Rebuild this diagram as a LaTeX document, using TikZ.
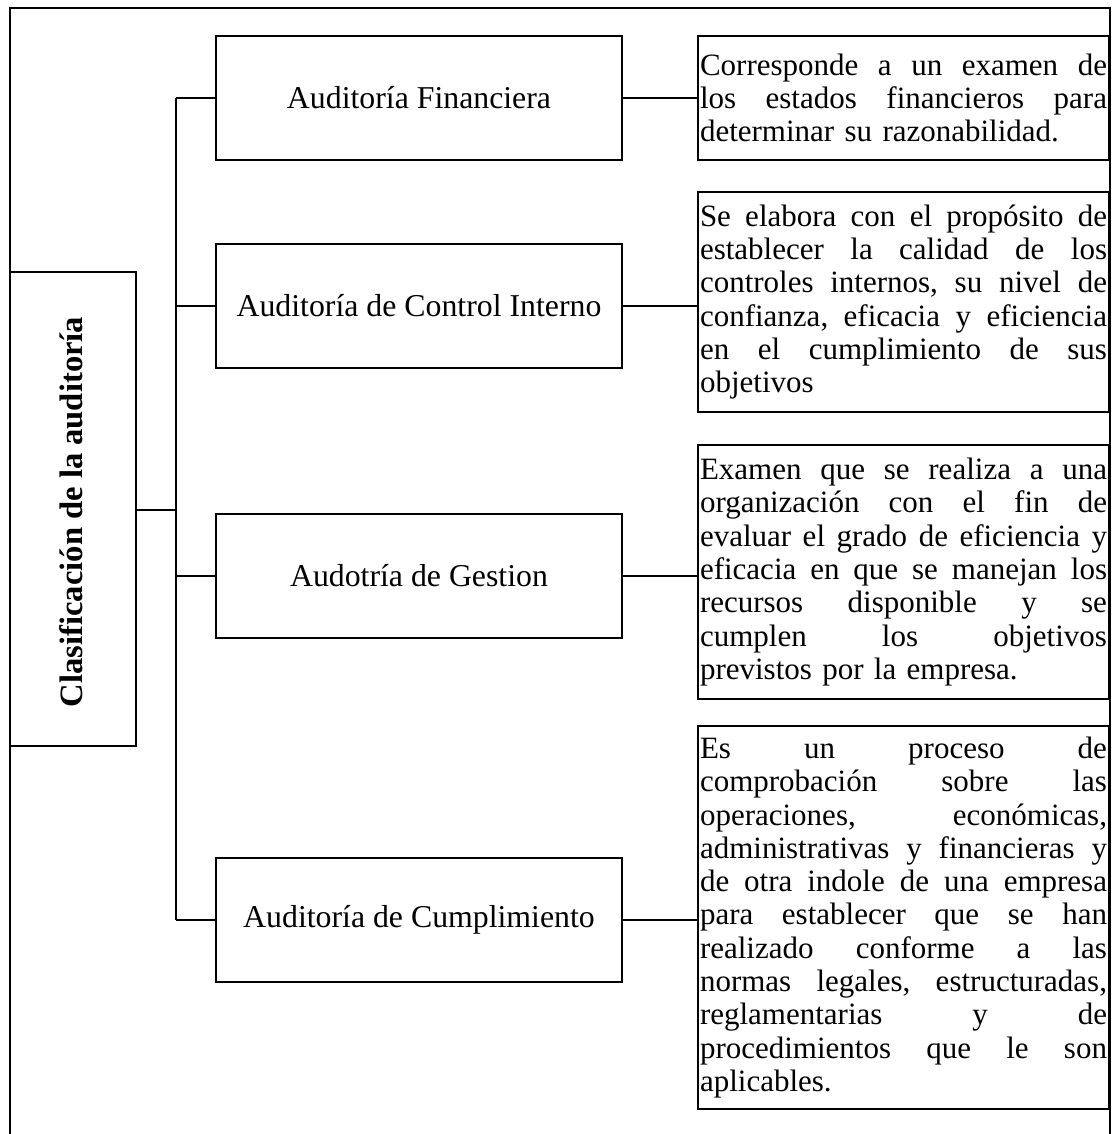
\documentclass[tikz,border=0pt]{standalone}
\usepackage{fontspec}
\setmainfont{Liberation Serif}
\newcommand{\midfont}{\fontsize{31.8pt}{34pt}\selectfont}
\newcommand{\descfont}{\fontsize{31pt}{33.3pt}\selectfont}
\newcommand{\rootfont}{\fontsize{32.6pt}{34pt}\selectfont\bfseries}
\newlength{\descw}
\setlength{\descw}{407pt}
\ExplSyntaxOn
% one fully justified line of a description: words spread to the full width
\cs_new_protected:Npn \jline #1
  {
    \tl_set:Nn \l_tmpa_tl {#1}
    \tl_replace_all:Nnn \l_tmpa_tl { ~ } { \hfill }
    \noindent \hbox_to_wd:nn { \descw } { \l_tmpa_tl } \par
  }
\ExplSyntaxOff
% last (ragged) line of a description
\newcommand{\lastline}[1]{\noindent\makebox[\descw][l]{#1}\par}
\tikzset{
  frameline/.style={line width=2.5pt},
  link/.style={line width=2pt},
  mainbox/.style={draw, line width=2pt, minimum width=126pt, minimum height=474pt, inner sep=0pt},
  midbox/.style={draw, line width=2pt, minimum width=406pt, minimum height=124pt, inner sep=0pt, font=\midfont},
  descbox/.style={draw, line width=2pt, minimum width=411pt, inner xsep=2pt, inner ysep=0pt, text width=\descw, font=\descfont}
}
\begin{document}
\begin{tikzpicture}[x=1pt, y=-1pt]
\useasboundingbox (0,0) rectangle (1118,1134);

% open outer frame
\coordinate (fbl) at (10,1134);
\coordinate (ftl) at (10,8);
\coordinate (ftr) at (1110,8);
\coordinate (fbr) at (1110,1134);
\draw[frameline] (fbl) -- (ftl) -- (ftr) -- (fbr);

% root box
\node[mainbox] (root) at (73,509) {};
\node[rotate=90, font=\rootfont] (roottxt) at (71,512) {Clasificación de la auditoría};

% audit types
\node[midbox] (m1) at (419,98) {Auditoría Financiera};
\node[midbox] (m2) at (419,306) {Auditoría de Control Interno};
\node[midbox] (m3) at (419,575.5) {Audotría de Gestion};
\node[midbox] (m4) at (419,920) {Auditoría de Cumplimiento};

% descriptions
\node[descbox, minimum height=124pt] (r1) at (903.5,98) {%
\jline{Corresponde a un examen de}
\jline{los estados financieros para}
\lastline{determinar su razonabilidad.}};

\node[descbox, minimum height=220pt] (r2) at (903.5,302) {%
\jline{Se elabora con el propósito de}
\jline{establecer la calidad de los}
\jline{controles internos, su nivel de}
\jline{confianza, eficacia y eficiencia}
\jline{en el cumplimiento de sus}
\lastline{objetivos}};

\node[descbox, minimum height=254pt] (r3) at (903.5,572) {%
\jline{Examen que se realiza a una}
\jline{organización con el fin de}
\jline{evaluar el grado de eficiencia y}
\jline{eficacia en que se manejan los}
\jline{recursos disponible y se}
\jline{cumplen los objetivos}
\lastline{previstos por la empresa.}};

\node[descbox, minimum height=383pt] (r4) at (903.5,917.5) {%
\jline{Es un proceso de}
\jline{comprobación sobre las}
\jline{operaciones, económicas,}
\jline{administrativas y financieras y}
\jline{de otra indole de una empresa}
\jline{para establecer que se han}
\jline{realizado conforme a las}
\jline{normas legales, estructuradas,}
\jline{reglamentarias y de}
\jline{procedimientos que le son}
\lastline{aplicables.}};

% tree connectors
\coordinate (trunktop) at (176,98);
\coordinate (trunkbot) at (176,920);
\draw[link] (trunktop) -- (trunkbot);
\draw[link] (root.east |- 0,510) -- (176,510);
\foreach \m in {m1,m2,m3,m4}{
  \draw[link] (\m.west -| trunktop) -- (\m.west);
}
\foreach \m/\r in {m1/r1,m2/r2,m3/r3,m4/r4}{
  \draw[link] (\m.east) -- (\m.east -| \r.west);
}
\end{tikzpicture}
\end{document}
